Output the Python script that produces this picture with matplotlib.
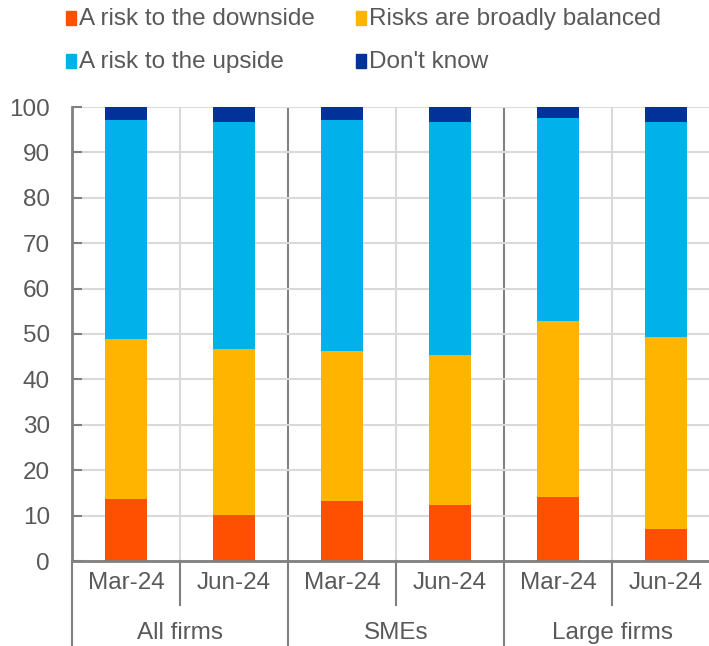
import numpy as np
import matplotlib.pyplot as plt
from matplotlib.patches import Rectangle
import matplotlib.transforms as mtransforms

plt.rcParams['font.family'] = ['Liberation Sans', 'DejaVu Sans']

# Data (percent of firms)
periods = ["Mar-24", "Jun-24", "Mar-24", "Jun-24", "Mar-24", "Jun-24"]
groups = ["All firms", "SMEs", "Large firms"]
downside = [13.7, 10.1, 13.2, 12.3, 14.1, 7.0]
balanced = [35.2, 36.6, 33.1, 33.1, 38.8, 42.3]
upside = [48.2, 50.0, 50.8, 51.3, 44.7, 47.4]
dont_know = [2.9, 3.3, 2.9, 3.3, 2.4, 3.3]

series = [
    ("A risk to the downside", downside, "#FF4F00"),
    ("Risks are broadly balanced", balanced, "#FFB400"),
    ("A risk to the upside", upside, "#00B1EA"),
    ("Don't know", dont_know, "#003299"),
]

TXT = "#595959"
FS = 17.5
W, H = 709, 646

fig = plt.figure(figsize=(W / 100, H / 100), dpi=100)
ax = fig.add_axes([72 / W, 85 / H, 648 / W, 454 / H])

x = np.arange(len(periods))
bottom = np.zeros(len(periods))
for name, vals, col in series:
    ax.bar(x, vals, bottom=bottom, width=0.39, color=col, zorder=3)
    bottom += np.array(vals)

ax.set_xlim(-0.5, len(periods) - 0.5)
ax.set_ylim(0, 100)
ax.set_yticks(range(0, 101, 10))
ax.set_xticks([])
ax.tick_params(axis='y', direction='in', length=7, width=1.5, color="#808080",
               labelsize=FS, labelcolor=TXT, pad=16)
ax.yaxis.grid(True, color="#D9D9D9", linewidth=1.5, zorder=0)
for s in ["top", "right"]:
    ax.spines[s].set_visible(False)
ax.spines["left"].set_color("#808080")
ax.spines["left"].set_linewidth(2)
ax.spines["bottom"].set_color("#808080")
ax.spines["bottom"].set_linewidth(2)
ax.spines["bottom"].set_zorder(4)

# vertical separators inside plot
for b in np.arange(0.5, len(periods) - 0.5, 1.0):
    is_group = int(b + 0.5) % 2 == 0
    ax.axvline(b, color="#808080" if is_group else "#D9D9D9",
               linewidth=1.5, zorder=1)

# category axis below the plot
trans = mtransforms.blended_transform_factory(ax.transData, ax.transAxes)
lab_y = -(583 - 561) / 454
grp_y = -(633 - 561) / 454
cat_bot = -(605 - 561) / 454
grp_bot = -(646 - 561) / 454
for i, p in enumerate(periods):
    ax.text(i, lab_y, p, transform=trans, ha="center", va="center",
            fontsize=FS, color=TXT)
for g, name in enumerate(groups):
    ax.text(2 * g + 0.5, grp_y, name, transform=trans, ha="center",
            va="center", fontsize=FS, color=TXT)
    ax.plot([2 * g - 0.5] * 2, [0, grp_bot], transform=trans, color="#808080",
            linewidth=1.5, clip_on=False)
    ax.plot([2 * g + 0.5] * 2, [0, cat_bot], transform=trans, color="#808080",
            linewidth=1.5, clip_on=False)

# legend
leg_pos = [(66, 18), (356, 18), (66, 61), (356, 61)]
for (name, vals, col), (px, py) in zip(series, leg_pos):
    fig.patches.append(Rectangle((px / W, 1 - (py + 7) / H), 10 / W, 14 / H,
                                 transform=fig.transFigure, color=col))
    fig.text((px + 13) / W, 1 - (py + 1) / H, name, ha="left", va="center",
             fontsize=FS, color=TXT)

fig.savefig("out.png", dpi=100)
